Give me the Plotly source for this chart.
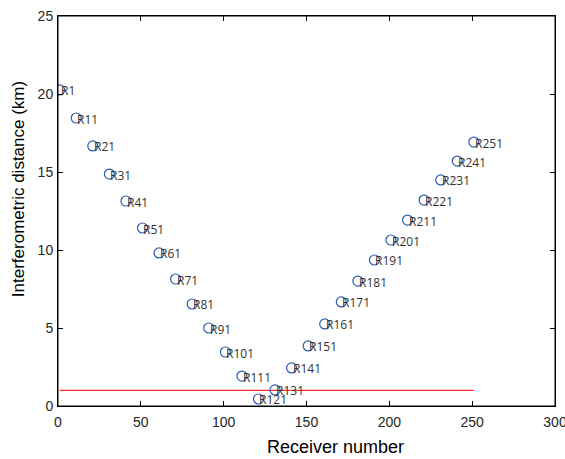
import plotly.graph_objects as go

receivers = [1, 11, 21, 31, 41, 51, 61, 71, 81, 91, 101, 111, 121, 131, 141, 151,
             161, 171, 181, 191, 201, 211, 221, 231, 241, 251]
distance_km = [20.26, 18.46, 16.67, 14.87, 13.14, 11.41, 9.81, 8.14, 6.54, 5.0,
               3.46, 1.92, 0.45, 1.03, 2.44, 3.85, 5.26, 6.67, 8.01, 9.36,
               10.64, 11.92, 13.2, 14.49, 15.7, 16.92]
labels = ["R%d" % r for r in receivers]
threshold_x = [1, 251]
threshold_y = [1, 1]
x_title = "Receiver number"
y_title = "Interferometric distance (km)"

fig = go.Figure()
fig.add_trace(go.Scatter(x=threshold_x, y=threshold_y, mode="lines",
                         line=dict(color="#ff2a2a", width=1.4), showlegend=False))
fig.add_trace(go.Scatter(x=receivers, y=distance_km, mode="markers",
                         marker=dict(symbol="circle-open", size=10,
                                     color="#2a5caa", line=dict(width=1.2)),
                         showlegend=False))
for xv, yv, lab in zip(receivers, distance_km, labels):
    fig.add_annotation(x=xv, y=yv, text=lab, showarrow=False, xanchor="left",
                       yanchor="middle", xshift=-1, yshift=-1,
                       font=dict(family="Open Sans", size=12, color="#333333"))

title_font = dict(family="Liberation Sans, Arial", size=18, color="black")
fig.add_annotation(xref="paper", yref="paper", x=0.558, y=0, text=x_title,
                   showarrow=False, xanchor="center", yanchor="middle",
                   yshift=-41, font=title_font)
fig.add_annotation(xref="paper", yref="paper", x=0, y=0.556, text=y_title,
                   showarrow=False, xanchor="center", yanchor="middle",
                   textangle=-90, xshift=-40, font=dict(title_font, size=17))

axis_common = dict(showline=True, linecolor="black", linewidth=1, mirror="ticks",
                   ticks="inside", ticklen=5, tickcolor="black", tickwidth=1,
                   showgrid=False, zeroline=False, ticklabeloverflow="allow",
                   automargin=False,
                   tickfont=dict(family="Liberation Sans, Arial", size=14, color="#262626"))
fig.update_xaxes(range=[0, 300], tickvals=[0, 50, 100, 150, 200, 250, 300],
                 ticklabelstandoff=3, **axis_common)
fig.update_yaxes(range=[0, 25], tickvals=[0, 5, 10, 15, 20, 25],
                 ticklabelstandoff=1, **axis_common)
fig.add_shape(type="rect", xref="paper", yref="paper", x0=0, y0=0, x1=1, y1=1,
              line=dict(color="black", width=1), layer="above")
fig.update_layout(width=565, height=459, margin=dict(l=58, r=10, t=16, b=53),
                  plot_bgcolor="white", paper_bgcolor="white")
fig.write_html("out.html", config={"displayModeBar": False},
               post_script="document.body.style.margin='0';")
